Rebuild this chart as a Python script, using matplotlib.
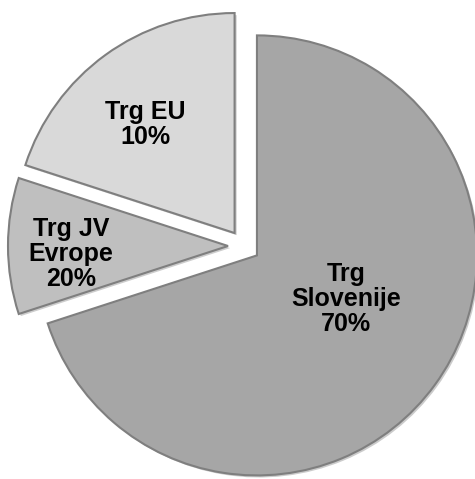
import matplotlib.pyplot as plt
import matplotlib.patheffects as pe
import numpy as np

# slice shares as drawn (counter-clockwise from 12 o'clock)
markets = ["Trg EU", "Trg JV\nEvrope", "Trg\nSlovenije"]
shares = [20, 10, 70]
# percentages as printed on the slices
printed_pct = ["10%", "20%", "70%"]
colors = ["#d9d9d9", "#bfbfbf", "#a6a6a6"]

fig = plt.figure(figsize=(4.75, 4.79), dpi=100)
ax = fig.add_axes([0, 0, 1, 1])

radius = 220
# explode is in data units here (pixels)
wedges, _ = ax.pie(
    shares,
    colors=colors,
    startangle=90,
    counterclock=True,
    explode=[16] * 3,
    radius=radius,
    center=(244, 233),
    wedgeprops=dict(edgecolor="#7f7f7f", linewidth=1.5),
    frame=True,
)
ax.set_xlim(0, 475)
ax.set_ylim(0, 479)
ax.set_aspect("equal")
ax.axis("off")

for w in wedges:
    w.set_path_effects([pe.SimplePatchShadow(offset=(1.5, -1.5), alpha=0.25), pe.Normal()])

# label placement: radial fraction and angle shift per slice
label_r = [0.64, 0.715, 0.45]
label_shift = [3.4, 3, 10]
for w, name, pct, fr, sh in zip(wedges, markets, printed_pct, label_r, label_shift):
    mid = np.deg2rad((w.theta1 + w.theta2) / 2 + sh)
    cx, cy = w.center
    x = cx + fr * radius * np.cos(mid)
    y = cy + fr * radius * np.sin(mid)
    ax.text(x, y, name + "\n" + pct, ha="center", va="center",
            fontsize=18, fontweight="bold", family="Liberation Sans",
            linespacing=1.05, color="black")

fig.savefig("out.png", dpi=100)
